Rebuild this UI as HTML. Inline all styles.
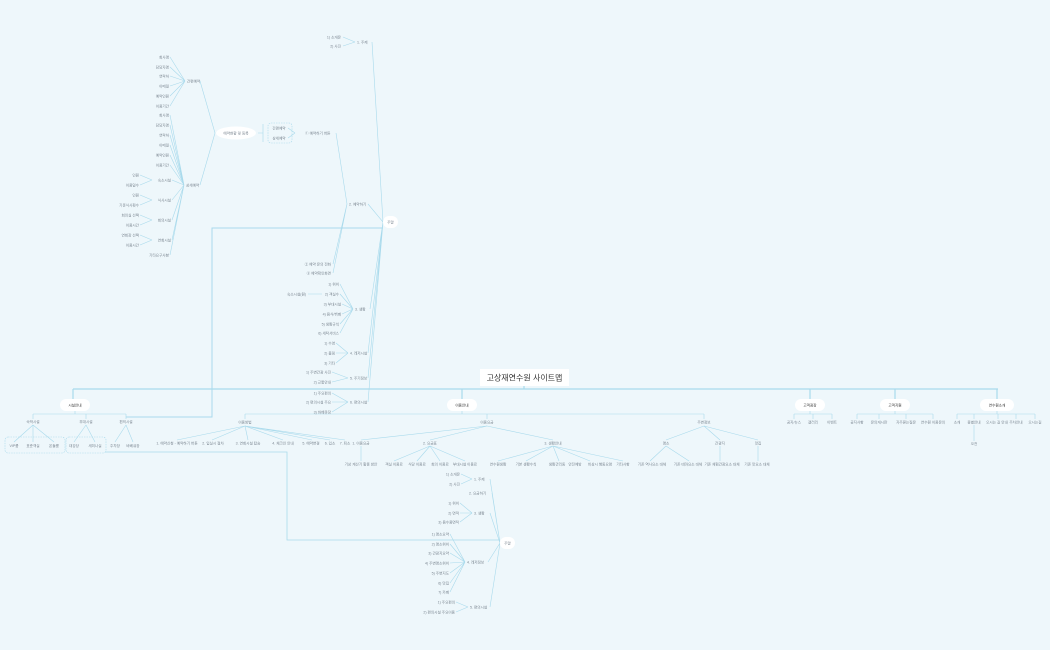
<!DOCTYPE html>
<html><head><meta charset="utf-8"><style>
html,body{margin:0;padding:0;background:#eef7fb;}
svg{display:block}
text{font-family:"Liberation Sans","Noto Sans CJK KR",sans-serif;font-size:3.6px;fill:#7a8590;}
.n{text-anchor:middle;}
.e{text-anchor:end;}
</style></head><body>
<svg width="1050" height="650" viewBox="0 0 1050 650">
<rect width="1050" height="650" fill="#eef7fb"/>
<g fill="none" stroke="#a9daec" stroke-width="0.6">
<path d="M73 389H998M524 386V389M73 389V400M462 389V400M810 389V400M895 389V400M997 389V400" stroke-width="1.2"/>
<path d="M75 410V414M33 414H126M33 414V419M86 414V419M126 414V419M33 425L14 442M33 425L33 442M33 425L54 442M86 425L74 442M86 425L95 442M126 425L115 442M126 425L133 442"/>
<rect x="5" y="437" width="60" height="16" rx="3" stroke-dasharray="1.5 1"/>
<rect x="66" y="437" width="40" height="16" rx="3" stroke-dasharray="1.5 1"/>
<path d="M462 410V414M245 414H704M245 414V419M487 414V419M704 414V419"/>
<path d="M245 426L177 440M245 426L212 440M245 426L248 440M245 426L283 440M245 426L312 440M245 426L330 440M245 426L345 440"/>
<path d="M487 426L361 440M487 426L430 440M487 426L553 440"/>
<path d="M361 446V461M430 446L394 461M430 446L417 461M430 446L440 461M430 446L465 461M553 446L498 461M553 446L526 461M553 446L559 461M553 446L590 461M553 446L623 461"/>
<path d="M704 426L666 440M704 426L720 440M704 426L758 440M666 446L650 461M666 446L689 461M720 446V461M758 446V461"/>
<path d="M810 410V414M794 414H832M794 414V419M813 414V419M832 414V419"/>
<path d="M895 410V414M857 414H933M857 414V419M879 414V419M906 414V419M933 414V419"/>
<path d="M997 410V414M957 414H1035M957 414V419M974 414V419M998 414V419M1016 414V419M1035 414V419M974 425V441"/>
<path d="M383 228H212V417H126" stroke-width="1"/>
<path d="M105 452H287V540H500" stroke-width="0.8"/>
<path d="M383 222L372 42M383 222L368 204M383 222L370 309M383 222L368 353M383 222L368 378M383 222L368 402"/>
<path d="M355 42L343 37M355 42L343 46"/>
<path d="M347 204L336 133M347 204L333 264M347 204L333 273"/>
<path d="M295 133L288 128M295 133L288 138"/>
<rect x="268" y="123" width="24" height="20" rx="3" stroke-dasharray="1.5 1"/>
<path d="M263 124V142M263 133H258"/>
<path d="M215 133L200 81M215 133L200 185"/>
<path d="M185 81L170 57M185 81L170 67M185 81L170 76M185 81L170 86M185 81L170 96M185 81L170 106"/>
<path d="M184 185L170 115M184 185L170 125M184 185L170 135M184 185L170 145M184 185L170 155M184 185L170 165M184 185L172 180M184 185L172 200M184 185L172 220M184 185L172 240M184 185L170 255"/>
<path d="M152 180L140 175M152 180L140 185M152 200L140 195M152 200L140 205M152 220L140 215M152 220L140 225M152 240L140 235M152 240L140 245"/>
<path d="M353 309L340 284M353 309L340 294M353 309L342 304M353 309L342 314M353 309L340 324M353 309L340 333M322 294H308"/>
<path d="M348 353L336 343M348 353L336 353M348 353L336 363"/>
<path d="M348 378L332 372M348 378L332 382"/>
<path d="M348 402L332 393M348 402L332 402M348 402L332 412"/>
<path d="M500 543L490 479M500 543L492 493M500 543L490 513M500 543L488 562M500 543L490 607"/>
<path d="M472 479L461 474M472 479L461 484M472 513L460 503M472 513L460 513M472 513L460 522"/>
<path d="M465 562L450 534M465 562L450 544M465 562L450 553M465 562L450 563M465 562L450 573M465 562L450 583M465 562L450 592"/>
<path d="M468 607L456 602M468 607L456 612"/>
</g>
<rect x="480" y="369" width="89" height="17" fill="#fff"/>
<text x="524.5" y="380.5" class="n" style="font-size:8px;fill:#333">고상재연수원 사이트맵</text>
<g fill="#fff">
<rect x="60" y="399" width="30" height="12" rx="6"/><rect x="447" y="399" width="30" height="12" rx="6"/>
<rect x="795" y="399" width="30" height="12" rx="6"/><rect x="880" y="399" width="30" height="12" rx="6"/>
<rect x="980" y="399" width="34" height="12" rx="6"/>
<rect x="383" y="216" width="15" height="12" rx="6"/><rect x="500" y="537" width="15" height="12" rx="6"/>
<ellipse cx="236" cy="133" rx="20" ry="6.5"/>
</g>
<g style="font-size:4.4px">
<text x="75" y="406.6" class="n" style="fill:#333">시설안내</text><text x="462" y="406.6" class="n" style="fill:#333">이용안내</text>
<text x="810" y="406.6" class="n" style="fill:#333">고객광장</text><text x="895" y="406.6" class="n" style="fill:#333">고객지원</text>
<text x="997" y="406.6" class="n" style="fill:#333">연수원소개</text>
</g>
<text x="390.5" y="223.5" class="n">주말</text><text x="507.5" y="544.5" class="n">주말</text>
<text x="236" y="134.5" class="n">예약현황 및 등록</text>
<text x="33" y="423" class="n">숙박시설</text><text x="86" y="423" class="n">부대시설</text><text x="126" y="423" class="n">편의시설</text>
<text x="14" y="447" class="n">VIP룸</text><text x="33" y="447" class="n">표준객실</text><text x="54" y="447" class="n">온돌룸</text>
<text x="74" y="447" class="n">대강당</text><text x="95" y="447" class="n">세미나실</text><text x="115" y="447" class="n">주차장</text><text x="133" y="447" class="n">바베큐장</text>
<text x="245" y="423.5" class="n">이용방법</text><text x="487" y="423.5" class="n">이용요금</text><text x="704" y="423.5" class="n">주변정보</text>
<text x="177" y="444.5" class="n">1. 예약신청 - 예약하기 버튼</text><text x="213" y="444.5" class="n">2. 입실시 절차</text>
<text x="248" y="444.5" class="n">3. 연회시설 탑승</text><text x="283" y="444.5" class="n">4. 체크인 안내</text>
<text x="311" y="444.5" class="n">5. 예약변경</text><text x="330" y="444.5" class="n">6. 입소</text><text x="345" y="444.5" class="n">7. 퇴소</text>
<text x="361" y="444.5" class="n">1. 이용요금</text><text x="430" y="444.5" class="n">2. 요금표</text><text x="553" y="444.5" class="n">3. 생활안내</text>
<text x="361" y="465.5" class="n">기상 계산기 할증 방안</text><text x="394" y="465.5" class="n">객실 이용료</text><text x="417" y="465.5" class="n">식당 이용료</text>
<text x="440" y="465.5" class="n">회의 이용료</text><text x="465" y="465.5" class="n">부대시설 이용료</text>
<text x="498" y="465.5" class="n">연수원생활</text><text x="526" y="465.5" class="n">기본 생활수칙</text><text x="557" y="465.5" class="n">생활관리동</text>
<text x="575" y="465.5" class="n">안전예방</text><text x="600" y="465.5" class="n">비상시 행동요령</text><text x="623" y="465.5" class="n">기타사항</text>
<text x="666" y="444.5" class="n">명소</text><text x="720" y="444.5" class="n">관광지</text><text x="758" y="444.5" class="n">맛집</text>
<text x="652" y="465.5" class="n">기존 역사요소 대체</text><text x="688" y="465.5" class="n">기존 테마요소 대체</text>
<text x="722" y="465.5" class="n">기존 체험관광요소 대체</text><text x="757" y="465.5" class="n">기존 맛요소 대체</text>
<text x="794" y="423.5" class="n">공지/뉴스</text><text x="813" y="423.5" class="n">갤러리</text><text x="832" y="423.5" class="n">이벤트</text>
<text x="857" y="423.5" class="n">공지사항</text><text x="879" y="423.5" class="n">문의게시판</text><text x="906" y="423.5" class="n">자주묻는질문</text><text x="933" y="423.5" class="n">연수원 이용문의</text>
<text x="957" y="423.5" class="n">소개</text><text x="974" y="423.5" class="n">종별안내</text><text x="997" y="423.5" class="n">오시는 길 안내</text>
<text x="1016" y="423.5" class="n">주차안내</text><text x="1035" y="423.5" class="n">오시는길</text><text x="974" y="445" class="n">오전</text>
<text x="357" y="43.5">1. 주제</text><text x="341" y="38.5" class="e">1) 소개문</text><text x="341" y="47.5" class="e">2) 사진</text>
<text x="349" y="205.5">2. 예약하기</text>
<text x="305" y="134.5">① 예약하기 버튼</text><text x="279" y="129.5" class="n">간편예약</text><text x="279" y="139.5" class="n">상세예약</text>
<text x="331" y="265.5" class="e">② 예약 문의 전화</text><text x="331" y="274.5" class="e">③ 예약확인화면</text>
<text x="187" y="82.5">간편예약</text><text x="186" y="186.5">상세예약</text>
<text x="169" y="58.5" class="e">회사명</text><text x="169" y="68.5" class="e">담당자명</text><text x="169" y="77.5" class="e">연락처</text>
<text x="169" y="87.5" class="e">이메일</text><text x="169" y="97.5" class="e">예약인원</text><text x="169" y="107.5" class="e">이용기간</text>
<text x="169" y="116.5" class="e">회사명</text><text x="169" y="126.5" class="e">담당자명</text><text x="169" y="136.5" class="e">연락처</text>
<text x="169" y="146.5" class="e">이메일</text><text x="169" y="156.5" class="e">예약인원</text><text x="169" y="166.5" class="e">이용기간</text>
<text x="171" y="181.5" class="e">숙소시설</text><text x="171" y="201.5" class="e">식사시설</text><text x="171" y="221.5" class="e">회의시설</text>
<text x="171" y="241.5" class="e">연회시설</text><text x="169" y="256.5" class="e">기타요구사항</text>
<text x="139" y="176.5" class="e">인원</text><text x="139" y="186.5" class="e">이용일수</text><text x="139" y="196.5" class="e">인원</text>
<text x="139" y="206.5" class="e">기준식사횟수</text><text x="139" y="216.5" class="e">회의실 선택</text><text x="139" y="226.5" class="e">이용시간</text>
<text x="139" y="236.5" class="e">연회장 선택</text><text x="139" y="246.5" class="e">이용시간</text>
<text x="339" y="285.5" class="e">1) 위치</text><text x="339" y="295.5" class="e">2) 객실수</text><text x="306" y="295.5" class="e">숙소시설(원)</text>
<text x="341" y="305.5" class="e">3) 부대시설</text><text x="341" y="315.5" class="e">4) 음식/뷔페</text><text x="339" y="325.5" class="e">5) 생활규칙</text>
<text x="339" y="334.5" class="e">6) 세탁서비스</text>
<text x="335" y="344.5" class="e">1) 수영</text><text x="335" y="354.5" class="e">2) 볼링</text><text x="335" y="364.5" class="e">3) 기타</text>
<text x="331" y="373.5" class="e">1) 주변관광 사진</text><text x="331" y="383.5" class="e">2) 교통안내</text>
<text x="331" y="394.5" class="e">1) 주요편의</text><text x="331" y="403.5" class="e">2) 편의시설 주요</text><text x="331" y="413.5" class="e">3) 바베큐장</text>
<text x="355" y="310.5">3. 생활</text><text x="350" y="354.5">4. 레저시설</text><text x="350" y="379.5">5. 주기정보</text><text x="350" y="403.5">6. 편의시설</text>
<text x="474" y="480.5">1. 주제</text><text x="469" y="494.5">2. 요금하기</text><text x="474" y="514.5">3. 생활</text>
<text x="467" y="563.5">4. 레저정보</text><text x="470" y="608.5">5. 편의시설</text>
<text x="460" y="475.5" class="e">1) 소개문</text><text x="460" y="485.5" class="e">2) 사진</text>
<text x="459" y="504.5" class="e">1) 위치</text><text x="459" y="514.5" class="e">2) 면적</text><text x="459" y="523.5" class="e">3) 음수용면적</text>
<text x="449" y="535.5" class="e">1) 명소요약</text><text x="449" y="545.5" class="e">2) 명소위치</text><text x="449" y="554.5" class="e">3) 관광지요약</text>
<text x="449" y="564.5" class="e">4) 주변명소위치</text><text x="449" y="574.5" class="e">5) 주변지도</text><text x="449" y="584.5" class="e">6) 맛집</text>
<text x="449" y="593.5" class="e">7) 카페</text><text x="455" y="603.5" class="e">1) 주요편의</text><text x="455" y="613.5" class="e">2) 편의시설 주요이용</text>
</svg>
</body></html>
